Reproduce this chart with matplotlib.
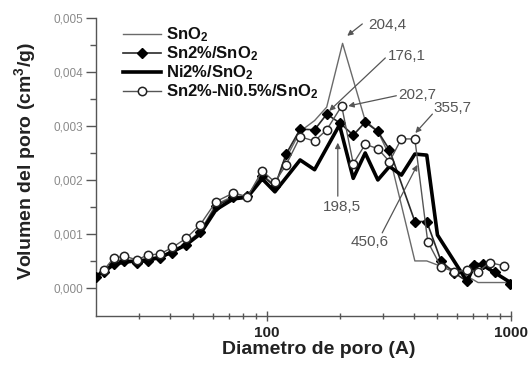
import matplotlib
matplotlib.use('Agg')
import matplotlib.pyplot as plt
from matplotlib.ticker import FixedLocator, FixedFormatter, NullFormatter

plt.rcParams['font.family'] = ['Liberation Sans', 'DejaVu Sans']
plt.rcParams['mathtext.fontset'] = 'custom'
plt.rcParams['mathtext.rm'] = 'Liberation Sans:bold'
plt.rcParams['mathtext.bf'] = 'Liberation Sans:bold'
plt.rcParams['mathtext.it'] = 'Liberation Sans:bold'

# ---------------- data ----------------
x_sno2 = [20, 21.5, 23.6, 26.1, 29.4, 32.6, 36.6, 41.1, 46.8, 53.4, 62, 73.1, 83.4, 95.8,
          108, 120, 137, 157, 176, 204.4, 253, 285, 318, 404, 452, 517, 600, 733, 995]
y_sno2 = [0.00020, 0.00032, 0.00050, 0.00052, 0.00050, 0.00052, 0.00058, 0.00068, 0.00083,
          0.00105, 0.00155, 0.00170, 0.00170, 0.00210, 0.00190, 0.00240, 0.00290, 0.00310,
          0.00335, 0.00453, 0.00310, 0.00290, 0.00245, 0.00050, 0.00050, 0.00040, 0.00033,
          0.00010, 0.00010]

x_sn = [20, 21.5, 23.6, 26.1, 29.4, 32.6, 36.6, 41.1, 46.8, 53.4, 62, 73.1, 83.4, 95.8,
        108, 120, 137, 157, 176.1, 200, 226, 253, 285, 318, 404, 452, 517, 586, 661, 705,
        770, 860, 995]
y_sn = [0.00020, 0.00030, 0.00045, 0.00050, 0.00046, 0.00049, 0.00055, 0.00065, 0.00080,
        0.00103, 0.00152, 0.00168, 0.00170, 0.00208, 0.00188, 0.00248, 0.00294, 0.00293,
        0.00322, 0.00305, 0.00283, 0.00307, 0.00290, 0.00256, 0.00123, 0.00123, 0.00050,
        0.00028, 0.00012, 0.00043, 0.00044, 0.00030, 0.00008]

x_ni = [20, 21.5, 23.6, 26.1, 29.4, 32.6, 36.6, 41.1, 46.8, 53.4, 62, 73.1, 83.4, 95.8,
        108, 137, 157, 198.5, 226, 253, 285, 318, 356, 404, 452, 500, 661, 712, 780, 995]
y_ni = [0.00022, 0.00030, 0.00043, 0.00048, 0.00050, 0.00052, 0.00057, 0.00067, 0.00080,
        0.00100, 0.00145, 0.00165, 0.00168, 0.00202, 0.00178, 0.00237, 0.00219, 0.00302,
        0.00203, 0.00250, 0.00200, 0.00225, 0.00209, 0.00248, 0.00246, 0.00098, 0.00012,
        0.00045, 0.00040, 0.00010]

x_snni = [21.5, 23.6, 26.1, 29.4, 32.6, 36.6, 41.1, 46.8, 53.4, 62, 73.1, 83.4, 95.8,
          108, 120, 137, 157, 176, 202.7, 226, 253, 285, 318, 355.7, 404, 456, 517, 586,
          661, 733, 818, 934]
y_snni = [0.00033, 0.00055, 0.00059, 0.00052, 0.00061, 0.00063, 0.00075, 0.00092, 0.00117,
          0.00160, 0.00176, 0.00169, 0.00217, 0.00196, 0.00228, 0.00280, 0.00272, 0.00293,
          0.00337, 0.00230, 0.00266, 0.00258, 0.00234, 0.00276, 0.00276, 0.00086, 0.00039,
          0.00030, 0.00033, 0.00030, 0.00047, 0.00041]

labels = ['SnO$_2$', 'Sn2%/SnO$_2$', 'Ni2%/SnO$_2$', 'Sn2%-Ni0.5%/SnO$_2$']

y_ticks = [0.000, 0.001, 0.002, 0.003, 0.004, 0.005]
y_ticklabels = ['0,000', '0,001', '0,002', '0,003', '0,004', '0,005']
x_ticks = [100, 1000]
x_ticklabels = ['100', '1000']

# annotations: (text, text position, arrow tail, arrow tip)
ann_texts = ['204,4', '176,1', '202,7', '355,7', '198,5', '450,6']
ann_text_xy = [(260.4, 0.00487), (314.6, 0.00430), (345.8, 0.00357), (481, 0.00333),
               (203.8, 0.00150), (219.8, 0.00085)]
ann_tail = [(246.2, 0.00489), (305.8, 0.00426), (339.3, 0.00356), (476.6, 0.00322),
            (195.4, 0.00170), (297, 0.00102)]
ann_tip = [(213.6, 0.00467), (180.3, 0.00328), (215.6, 0.00337), (406, 0.00287),
           (195.4, 0.00269), (413.8, 0.00228)]
ann_ha = ['left', 'left', 'left', 'left', 'center', 'left']

# ---------------- figure ----------------
fig = plt.figure(figsize=(5.29, 3.66), dpi=100)
ax = fig.add_axes([96/529, 1-316/366, 415/529, 298/366])

ax.plot(x_sno2, y_sno2, color='#6a6a6a', lw=1.0, label=labels[0], zorder=2)
ax.plot(x_sn, y_sn, color='#2a2a2a', lw=1.2, marker='D', ms=5, mfc='black', mec='black',
        label=labels[1], zorder=3)
ax.plot(x_ni, y_ni, color='black', lw=2.6, label=labels[2], zorder=4)
ax.plot(x_snni, y_snni, color='#555555', lw=1.0, marker='o', ms=6, mfc='white', mec='#222222',
        mew=1.1, label=labels[3], zorder=5)

ax.set_xscale('log')
ax.set_xlim(20, 1000)
ax.set_ylim(-0.00052, 0.005)

for s in ['top', 'right']:
    ax.spines[s].set_visible(False)
for s in ['left', 'bottom']:
    ax.spines[s].set_color('#555555')
    ax.spines[s].set_linewidth(1.0)

ax.xaxis.set_major_locator(FixedLocator(x_ticks))
ax.xaxis.set_major_formatter(FixedFormatter(x_ticklabels))
ax.xaxis.set_minor_locator(FixedLocator([30, 40, 50, 60, 70, 80, 90, 200, 300, 400, 500,
                                         600, 700, 800, 900]))
ax.xaxis.set_minor_formatter(NullFormatter())
ax.yaxis.set_major_locator(FixedLocator(y_ticks))
ax.yaxis.set_major_formatter(FixedFormatter(y_ticklabels))
ax.yaxis.set_minor_locator(FixedLocator([0.0005, 0.0015, 0.0025, 0.0035, 0.0045]))

ax.tick_params(axis='y', which='major', direction='out', length=7, width=1.0,
               color='#555555', labelsize=8.5, labelcolor='#8a8a8a', pad=2)
ax.tick_params(axis='y', which='minor', direction='out', length=4, width=1.0, color='#555555')
ax.tick_params(axis='x', which='major', direction='inout', length=7, width=1.0,
               color='#555555', labelsize=11, labelcolor='#222222', pad=4)
ax.tick_params(axis='x', which='minor', direction='inout', length=5, width=1.0, color='#555555')
for t in ax.get_xticklabels():
    t.set_fontweight('bold')

ax.set_xlabel('Diametro de poro (A)', fontsize=14, fontweight='bold', color='#222222')
ax.set_ylabel('Volumen del poro (cm$^3$/g)', fontsize=14, fontweight='bold', color='#222222')
ax.xaxis.set_label_coords(0.537, -0.085)
ax.yaxis.set_label_coords(-0.14, 0.52)

leg = ax.legend(loc='upper left', bbox_to_anchor=(0.065, 0.975), frameon=False,
                fontsize=12, handlelength=2.3, handletextpad=0.3, labelspacing=0.02,
                borderpad=0, borderaxespad=0)
for t in leg.get_texts():
    t.set_fontweight('bold')
    t.set_color('#111111')

for txt, txy, tail, tip, ha in zip(ann_texts, ann_text_xy, ann_tail, ann_tip, ann_ha):
    ax.annotate('', xy=tip, xytext=tail,
                arrowprops=dict(arrowstyle='-|>', color='#555555', lw=0.9,
                                mutation_scale=8, shrinkA=0, shrinkB=0), zorder=6)
    ax.text(txy[0], txy[1], txt, ha=ha, va='center', fontsize=11, color='#555555', zorder=6)

fig.savefig('out.png', dpi=100, facecolor='white')
